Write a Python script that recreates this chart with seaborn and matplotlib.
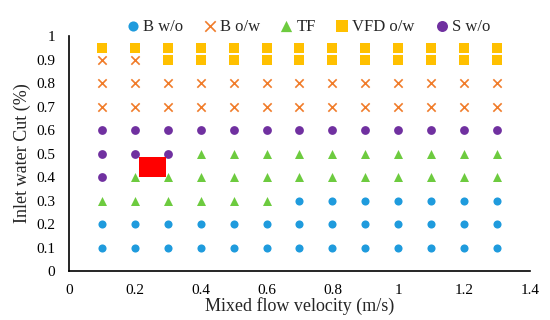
import matplotlib
matplotlib.use("Agg")
import matplotlib.pyplot as plt
import seaborn as sns
import pandas as pd
from matplotlib.patches import Rectangle

# ---- data ----
velocity = [0.1, 0.2, 0.3, 0.4, 0.5, 0.6, 0.7, 0.8, 0.9, 1.0, 1.1, 1.2, 1.3]

b_wo_x = velocity + velocity + [0.7, 0.8, 0.9, 1.0, 1.1, 1.2, 1.3]
b_wo_y = [0.1] * 13 + [0.2] * 13 + [0.3] * 7

tf_x = [0.1, 0.2, 0.3, 0.4, 0.5, 0.6] + [0.2, 0.3, 0.4, 0.5, 0.6, 0.7, 0.8, 0.9, 1.0, 1.1, 1.2, 1.3] \
       + [0.4, 0.5, 0.6, 0.7, 0.8, 0.9, 1.0, 1.1, 1.2, 1.3]
tf_y = [0.3] * 6 + [0.4] * 12 + [0.5] * 10

s_wo_x = [0.1] + [0.1, 0.2, 0.3] + velocity
s_wo_y = [0.4] + [0.5] * 3 + [0.6] * 13

b_ow_x = velocity + velocity + [0.1, 0.2]
b_ow_y = [0.7] * 13 + [0.8] * 13 + [0.9] * 2

vfd_x = [0.3, 0.4, 0.5, 0.6, 0.7, 0.8, 0.9, 1.0, 1.1, 1.2, 1.3] + velocity
vfd_y = [0.9] * 11 + [0.95] * 13

series_names = ["B w/o", "B o/w", "TF", "VFD o/w", "S w/o"]
highlight_x = [0.213, 0.295]
highlight_y = [0.40, 0.486]

x_ticks = [0, 0.2, 0.4, 0.6, 0.8, 1, 1.2, 1.4]
x_tick_labels = ["0", "0.2", "0.4", "0.6", "0.8", "1", "1.2", "1.4"]
y_ticks = [0, 0.1, 0.2, 0.3, 0.4, 0.5, 0.6, 0.7, 0.8, 0.9, 1]
y_tick_labels = ["0", "0.1", "0.2", "0.3", "0.4", "0.5", "0.6", "0.7", "0.8", "0.9", "1"]

# ---- style ----
sns.set_theme(style="white")
plt.rcParams["font.family"] = ["Liberation Serif", "DejaVu Serif"]

colors = {"B w/o": "#1F9BDD", "B o/w": "#F07C2A", "TF": "#6DCB3F",
          "VFD o/w": "#FFC000", "S w/o": "#7030A0"}

fig = plt.figure(figsize=(5.5, 3.2), dpi=100)
ax = fig.add_axes([0.1255, 0.153, 0.838, 0.734])

data = {
    "B w/o": (b_wo_x, b_wo_y, "o", 34),
    "B o/w": (b_ow_x, b_ow_y, "x", 36),
    "TF": (tf_x, tf_y, "^", 42),
    "VFD o/w": (vfd_x, vfd_y, "s", 50),
    "S w/o": (s_wo_x, s_wo_y, "o", 40),
}

for name in series_names:
    xs, ys, mk, sz = data[name]
    df = pd.DataFrame({"v": xs, "w": ys})
    kw = dict(linewidth=1.2) if mk == "x" else dict(linewidth=0)
    sns.scatterplot(data=df, x="v", y="w", ax=ax, marker=mk, s=sz,
                    color=colors[name], label=name, zorder=3, **kw)

ax.add_patch(Rectangle((highlight_x[0], highlight_y[0]),
                       highlight_x[1] - highlight_x[0],
                       highlight_y[1] - highlight_y[0],
                       facecolor="#FF0000", edgecolor="none", zorder=4))

ax.set_xlim(0, 1.4)
ax.set_ylim(0, 1)
ax.set_xticks(x_ticks)
ax.set_xticklabels(x_tick_labels)
ax.set_yticks(y_ticks)
ax.set_yticklabels(y_tick_labels)
ax.tick_params(direction="in", length=4, width=1, colors="black", labelsize=11)
ax.tick_params(axis="y", pad=10)
ax.tick_params(axis="x", pad=9)
for s in ["top", "right"]:
    ax.spines[s].set_visible(False)
for s in ["left", "bottom"]:
    ax.spines[s].set_color("black")
    ax.spines[s].set_linewidth(1.2)

ax.set_xlabel("Mixed flow velocity (m/s)", fontsize=13, labelpad=0.5)
ax.set_ylabel("Inlet water Cut (%)", fontsize=13, labelpad=4)

leg = ax.legend(loc="lower center", bbox_to_anchor=(0.515, 0.97), ncol=5, frameon=False,
                fontsize=12, handletextpad=0.0, columnspacing=1.0, borderaxespad=0.1,
                handlelength=1.2, markerscale=1.25)

fig.savefig("out.png", dpi=100)
